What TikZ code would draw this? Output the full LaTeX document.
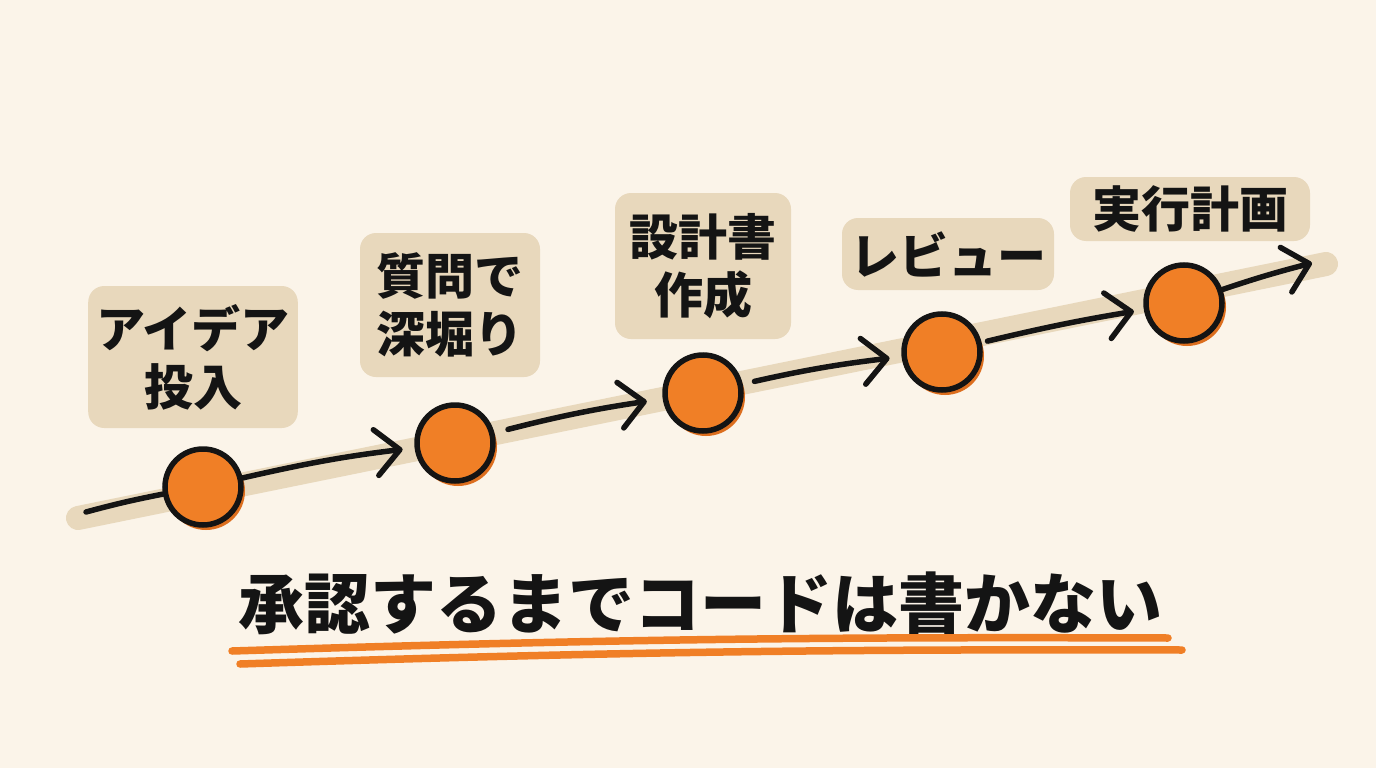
\documentclass[tikz,border=0pt]{standalone}
\usepackage{fontspec}
\newfontfamily\jp{Noto Sans CJK JP}
\usetikzlibrary{arrows.meta}
\definecolor{bg}{HTML}{FBF4E9}
\definecolor{tan}{HTML}{E8D8BC}
\definecolor{orng}{HTML}{F07F26}
\definecolor{orngdark}{HTML}{DC6E1E}
\definecolor{ink}{HTML}{141414}
\tikzset{
  x=1pt, y=-1pt,
  label box/.style={fill=tan, rounded corners=16pt, inner xsep=8pt, inner ysep=8pt,
    align=center, text=ink, font=\jp\bfseries\fontsize{49}{58}\selectfont},
  stop/.style={circle, draw=ink, line width=5.5pt, fill=orng, minimum size=76pt, inner sep=0pt},
  band/.style={tan, line width=24pt, line cap=round},
  link/.style={ink, line width=5.5pt, line cap=round},
  tip/.style={-{Straight Barb[length=24pt, width=46pt, line width=5.5pt, round]}},
  underline/.style={orng, line width=7.5pt, line cap=round},
}
\begin{document}
\begin{tikzpicture}
\fill[bg] (0,0) rectangle (1376,768);
\useasboundingbox (0,0) rectangle (1376,768);

% path band
\coordinate (bandA) at (78,518);
\coordinate (bandB) at (1326,264);
\draw[band] (bandA) -- (bandB);

% labels
\node[label box, minimum width=192pt, minimum height=142pt] (l1) at (193,357) {アイデア\\投入};
\node[label box, minimum width=180pt, minimum height=144pt] (l2) at (450,305) {質問で\\深堀り};
\node[label box, minimum width=176pt, minimum height=146pt] (l3) at (703,266) {設計書\\作成};
\node[label box, minimum width=186pt, minimum height=72pt] (l4) at (948,254) {レビュー};
\node[label box, minimum width=240pt, minimum height=64pt] (l5) at (1190,209) {実行計画};

% shadows
\foreach \x/\y in {203/487, 455/443, 703/393, 942/352, 1184/303}
  \fill[orngdark] (\x+3,\y+4) circle (39pt);

% stops
\node[stop] (c1) at (203,487) {};
\node[stop] (c2) at (455,443) {};
\node[stop] (c3) at (703,393) {};
\node[stop] (c4) at (942,352) {};
\node[stop] (c5) at (1184,303) {};

\coordinate (s0) at (86,512);
\coordinate (e5) at (1312,263);

% connectors
\draw[link] (s0) to[bend left=2] (c1);
\draw[link, tip, shorten >=12pt] (c1) to[bend left=3] (c2);
\draw[link, tip, shorten <=14pt, shorten >=16pt] (c2) to[bend left=3] (c3);
\draw[link, tip, shorten <=12pt, shorten >=12pt] (c3) to[bend left=3] (c4);
\draw[link, tip, shorten <=6pt, shorten >=10pt] (c4) to[bend left=2] (c5);
\draw[link, tip] (c5) to[bend left=2] (e5);

% slogan
\node[text=ink, font=\jp\bfseries\fontsize{66}{72}\selectfont, inner sep=0pt] (slogan) at (700,603) {承認するまでコードは書かない};
\coordinate (u1a) at (232,651);
\coordinate (u1b) at (1168,638);
\coordinate (u2a) at (240,664);
\coordinate (u2b) at (1182,650);
\draw[underline] (u1a) to[bend left=1] (u1b);
\draw[underline] (u2a) to[bend left=1] (u2b);
\end{tikzpicture}
\end{document}
